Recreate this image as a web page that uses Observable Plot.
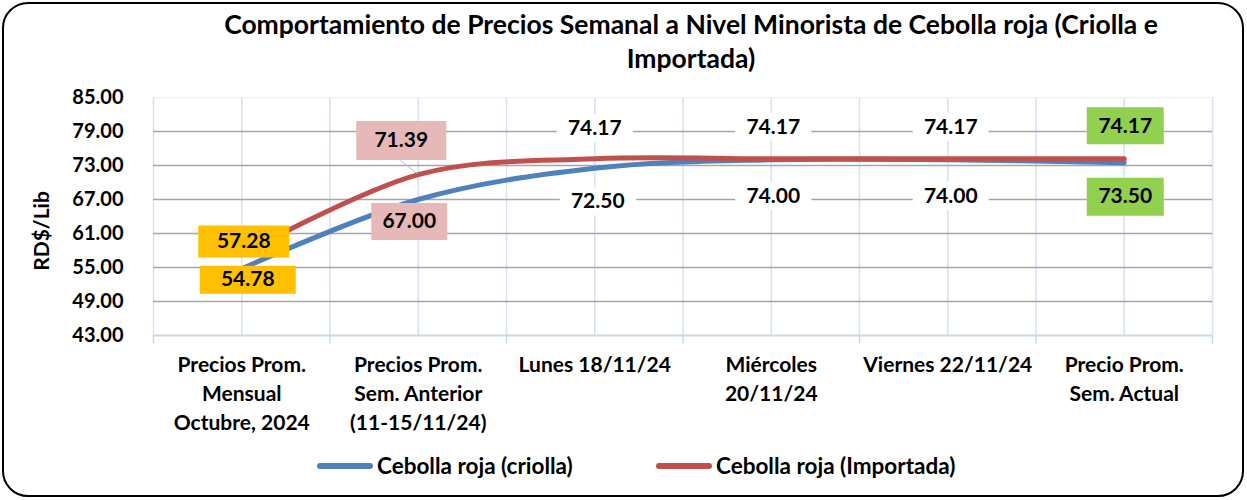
<!DOCTYPE html>
<html><head><meta charset="utf-8">
<script src="https://cdn.jsdelivr.net/npm/d3@7"></script>
<script src="https://cdn.jsdelivr.net/npm/@observablehq/plot@0.6"></script>
<style>
body{margin:0;background:#fff;}
#wrap{position:relative;width:1247px;height:500px;font-family:Lato,"Open Sans",sans-serif;overflow:hidden;background:#fff}
#frame{position:absolute;left:2px;top:2px;width:1242px;height:495px;box-sizing:border-box;border:2.5px solid #000;border-radius:26px;pointer-events:none}
#title{position:absolute;left:91px;width:1200px;top:7px;text-align:center;font-weight:bold;font-size:26.5px;line-height:34px;color:#000}
#ylab{position:absolute;left:40px;top:231px;transform:translate(-50%,-50%) rotate(-90deg);font-weight:bold;font-size:21px;white-space:nowrap}
.leg{position:absolute;top:453px;height:26px;line-height:26px;display:flex;align-items:center;font-weight:bold;font-size:22.5px;white-space:nowrap}
.sw{display:inline-block;width:56px;height:6px;border-radius:3px;margin-right:4px}
#chart{position:absolute;left:0;top:0}
</style></head>
<body>
<div id="wrap">
  <div id="chart"></div>
  <div id="title"></div>
  <div id="ylab"></div>
  <div id="legend"></div>
  <div id="frame"></div>
</div>
<script>
// ---- data ----
const categories = [
  "Precios Prom.\nMensual\nOctubre, 2024",
  "Precios Prom.\nSem. Anterior\n(11-15/11/24)",
  "Lunes 18/11/24",
  "Miércoles\n20/11/24",
  "Viernes 22/11/24",
  "Precio Prom.\nSem. Actual"
];
const criolla   = [54.78, 67.00, 72.50, 74.00, 74.00, 73.50];
const importada = [57.28, 71.39, 74.17, 74.17, 74.17, 74.17];
const yTicks = [43, 49, 55, 61, 67, 73, 79, 85];
const seriesNames = ["Cebolla roja (criolla)", "Cebolla roja (Importada)"];
const titleLines = ["Comportamiento de Precios Semanal a Nivel Minorista de Cebolla roja (Criolla e", "Importada)"];
const yTitle = "RD$/Lib";

// ---- styles ----
const colors = ["#4f81bd", "#c0504d"];
const labelFill = ["#ffc000", "#e6b9b8", "#ffffff", "#ffffff", "#ffffff", "#92d050"];
const labelOffset = [
  [[6,11],[-9,22],[3,33],[2,36],[3,36],[1,34]],        // criolla
  [[2,-13],[-17,-34],[0,-31],[2,-32],[3,-32],[1,-33]]  // importada
];
const labelBox = [
  [[96,28],[76,37],[76,28],[76,28],[76,28],[77,38]],
  [[91,32],[90,39],[76,28],[76,28],[76,28],[77,37]]
];
const font = "Lato, 'Open Sans', sans-serif";

document.getElementById("title").innerHTML = titleLines.join("<br>");
document.getElementById("ylab").textContent = yTitle;
document.getElementById("legend").innerHTML =
  `<div class="leg" style="left:317px"><span class="sw" style="background:${colors[0]}"></span>${seriesNames[0]}</div>` +
  `<div class="leg" style="left:656px"><span class="sw" style="background:${colors[1]}"></span>${seriesNames[1]}</div>`;

const series = [criolla, importada].map((vals, s) =>
  vals.map((v, i) => ({i, v, s, name: seriesNames[s]})));

const rectSymbol = (w, h) => ({draw(ctx) { ctx.rect(-w/2, -h/2, w, h); }});
const segSymbol = (x0, y0, x1, y1) => ({draw(ctx) { ctx.moveTo(x0, y0); ctx.lineTo(x1, y1); }});

const n = categories.length;
const halfSteps = d3.range(-0.5, n - 0.5 + 0.01, 0.5);
const edges = d3.range(-0.5, n - 0.5 + 0.01, 1);

const marks = [
  Plot.ruleX(halfSteps, {stroke: "#d6e2f2", strokeWidth: 1.5}),
  Plot.dot(edges, {x: d => d, y: yTicks[0], symbol: segSymbol(0, 0, 0, 8), stroke: "#c8d7ec", strokeWidth: 1.5, fill: "none"}),
  Plot.ruleY(yTicks.slice(1, -1), {stroke: "#a6a6a6", strokeWidth: 1.6}),
  Plot.ruleY([yTicks[yTicks.length - 1]], {stroke: "#efefef", strokeWidth: 1.2}),
  Plot.ruleY([yTicks[0]], {stroke: "#c8d7ec", strokeWidth: 2}),
  Plot.text(yTicks, {y: d => d, frameAnchor: "left", dx: -30, textAnchor: "end", text: d => d.toFixed(2),
    fontSize: 20, fontWeight: "bold", fontFamily: font, fill: "#000"}),
  Plot.text(categories, {x: (d, i) => i, frameAnchor: "bottom", dy: 16, lineAnchor: "top", lineHeight: 1.38,
    text: d => d, fontSize: 21, fontWeight: "bold", fontFamily: font, fill: "#000"}),
  Plot.line(series[0], {x: "i", y: "v", stroke: colors[0], strokeWidth: 5, curve: "cardinal", strokeLinecap: "round", strokeLinejoin: "round"}),
  Plot.line(series[1], {x: "i", y: "v", stroke: colors[1], strokeWidth: 5, curve: "cardinal", strokeLinecap: "round", strokeLinejoin: "round"}),
  // leader line for the previous-week imported label
  Plot.dot([series[1][1]], {x: "i", y: "v", symbol: segSymbol(-18, -14, -1, -1), stroke: "#9dc3e6", strokeWidth: 1, fill: "none"})
];

series.forEach((rows, s) => {
  rows.forEach((d, i) => {
    const [dx, dy] = labelOffset[s][i];
    const [w, h] = labelBox[s][i];
    marks.push(Plot.dot([d], {x: "i", y: "v", dx, dy, symbol: rectSymbol(w, h), fill: labelFill[i], stroke: "none"}));
    marks.push(Plot.text([d], {x: "i", y: "v", dx, dy, text: r => r.v.toFixed(2), fontSize: 21, fontWeight: "bold", fontFamily: font, fill: "#000"}));
  });
});

const chart = Plot.plot({
  width: 1247,
  height: 500,
  marginTop: 97,
  marginBottom: 165,
  marginLeft: 153,
  marginRight: 35,
  style: {fontFamily: font, background: "transparent", overflow: "visible"},
  x: {type: "linear", domain: [-0.5, n - 0.5], axis: null},
  y: {domain: [yTicks[0], yTicks[yTicks.length - 1]], axis: null},
  marks
});
document.getElementById("chart").appendChild(chart);
</script>
</body></html>
